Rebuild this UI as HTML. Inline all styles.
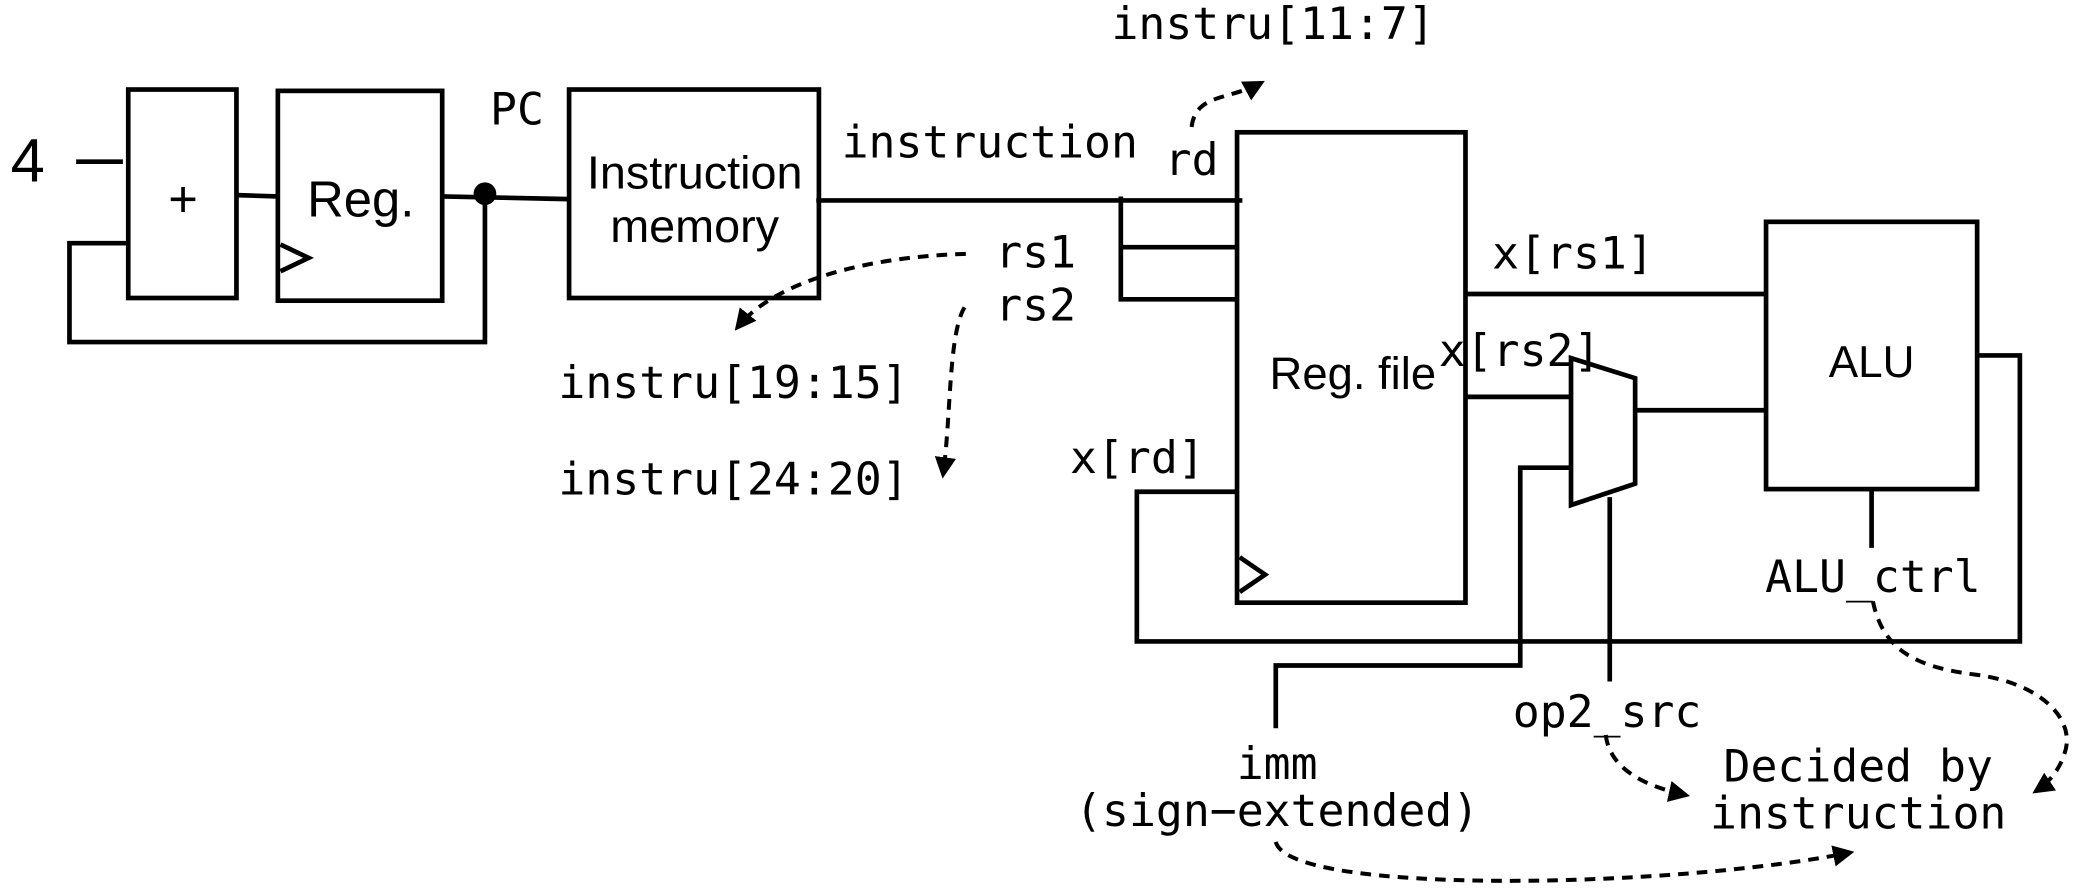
<!DOCTYPE html>
<html><head><meta charset="utf-8"><style>
html,body{margin:0;padding:0;background:#fff;}
svg{display:block;}
.m{font-family:"DejaVu Sans Mono","Liberation Mono",monospace;font-size:33.5px;}
.s{font-family:"Liberation Sans",sans-serif;}
</style></head><body>
<svg width="2084" height="894" viewBox="0 0 1560 669" preserveAspectRatio="none" xmlns="http://www.w3.org/2000/svg">
<defs>
<marker id="b" viewBox="0 0 10 10" refX="8" refY="5" markerWidth="16" markerHeight="16" orient="auto" markerUnits="userSpaceOnUse"><path d="M0,0 L10,5 L0,10 z" fill="#000"/></marker></defs>
<g fill="none" stroke="#000" stroke-width="3.5">
<line x1="57" y1="121" x2="92" y2="121"/>
<rect x="96" y="67" width="81" height="156"/>
<line x1="177" y1="146" x2="208" y2="147"/>
<rect x="208" y="68" width="123" height="157"/>
<polyline points="210,183 231,193 210,203"/>
<line x1="331" y1="147" x2="426" y2="149"/>
<polyline points="363,145 363,256 52,256 52,182 96,182"/>
<rect x="426" y="67" width="187" height="156"/>
<line x1="611" y1="150" x2="930" y2="150"/>
<polyline points="839,147 839,224 926,224"/>
<line x1="839" y1="185" x2="926" y2="185"/>
<rect x="926" y="99" width="171" height="352"/>
<polyline points="928,417 947,430 928,443"/>
<line x1="1097" y1="220" x2="1322" y2="220"/>
<line x1="1097" y1="297" x2="1176" y2="297"/>
<polygon points="1176,268 1224,283 1224,362 1176,378"/>
<line x1="1224" y1="307" x2="1322" y2="307"/>
<rect x="1322" y="166" width="158" height="200"/>
<polyline points="1480,266 1512,266 1512,480 851,480 851,368 926,368"/>
<line x1="1401" y1="366" x2="1401" y2="410"/>
<polyline points="1176,350 1138,350 1138,498 955,498 955,545"/>
<line x1="1205" y1="372" x2="1205" y2="510"/>
</g>
<circle cx="363" cy="145" r="8.5" fill="#000"/>
<g fill="none" stroke="#000" stroke-width="3" stroke-dasharray="8,6">
<path d="M892,95 C895,70 920,75 944,62" marker-end="url(#b)"/>
<path d="M723,190 C650,192 580,210 552,245" marker-end="url(#b)"/>
<path d="M722,230 C710,250 712,310 706,355" marker-end="url(#b)"/>
<path d="M1402,450 C1410,490 1440,500 1480,505 C1530,512 1555,540 1545,565 C1540,580 1530,588 1524,592" marker-end="url(#b)"/>
<path d="M1202,550 C1205,575 1230,588 1262,595" marker-end="url(#b)"/>
<path d="M955,630 C965,670 1250,665 1385,638" marker-end="url(#b)"/>
</g>
<g fill="#000">
<text x="8" y="136" class="s" font-size="46">4</text>
<text x="137" y="162" class="s" font-size="38" text-anchor="middle">+</text>
<text x="270" y="162" class="s" font-size="38" text-anchor="middle">Reg.</text>
<text x="387" y="93" class="m" font-size="30" text-anchor="middle">PC</text>
<text x="520" y="141" class="s" font-size="35" text-anchor="middle">Instruction</text>
<text x="520" y="181" class="s" font-size="35" text-anchor="middle">memory</text>
<text x="630" y="118" class="m">instruction</text>
<text x="892" y="131" class="m" text-anchor="middle">rd</text>
<text x="832" y="29" class="m">instru[11:7]</text>
<text x="745" y="200" class="m">rs1</text>
<text x="745" y="240" class="m">rs2</text>
<text x="418" y="298" class="m">instru[19:15]</text>
<text x="418" y="370" class="m">instru[24:20]</text>
<text x="1075" y="291" class="s" font-size="34" text-anchor="end">Reg. file</text>
<text x="1117" y="201" class="m">x[rs1]</text>
<text x="1077" y="274" class="m">x[rs2]</text>
<text x="1401" y="282" class="s" font-size="33" text-anchor="middle">ALU</text>
<text x="801" y="354" class="m">x[rd]</text>
<text x="1402" y="443" class="m" text-anchor="middle">ALU_ctrl</text>
<text x="1203" y="544" class="m" text-anchor="middle">op2_src</text>
<text x="956" y="583" class="m" text-anchor="middle">imm</text>
<text x="956" y="618" class="m" text-anchor="middle">(sign−extended)</text>
<text x="1391" y="585" class="m" text-anchor="middle">Decided by</text>
<text x="1391" y="620" class="m" text-anchor="middle">instruction</text>
</g>
</svg>
</body></html>
